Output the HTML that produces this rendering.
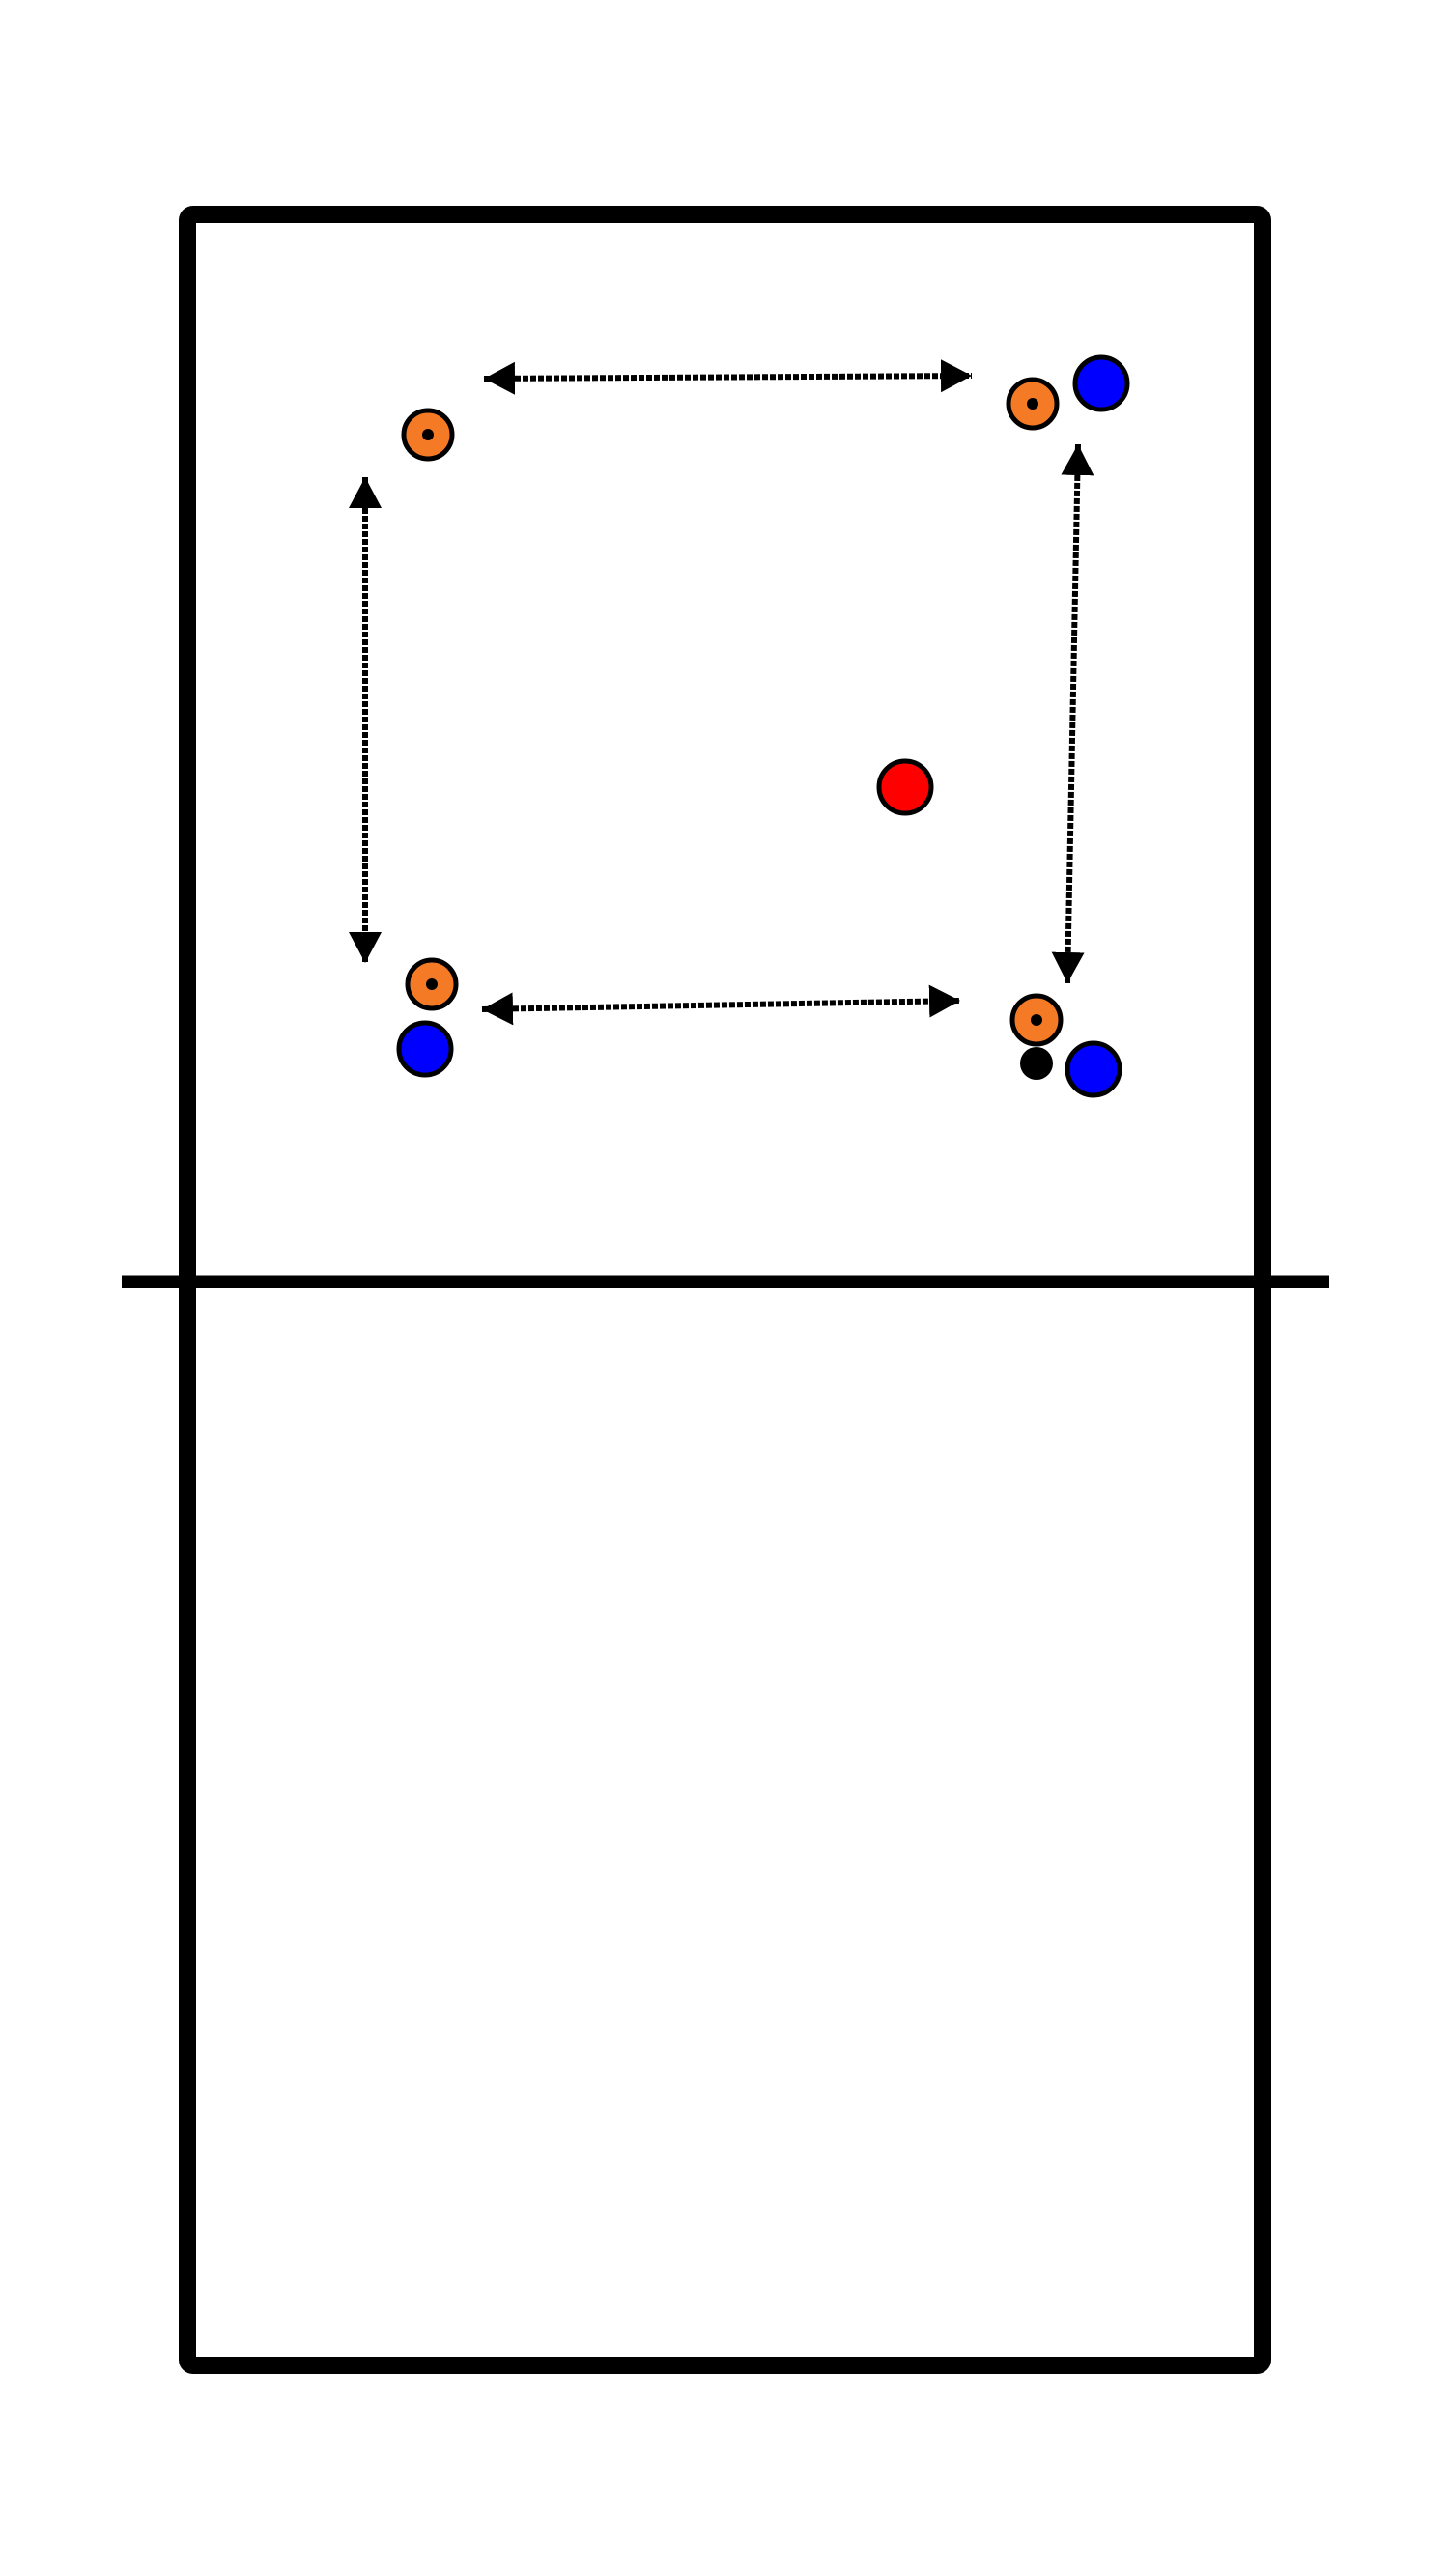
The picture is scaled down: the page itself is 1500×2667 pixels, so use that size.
<!DOCTYPE html>
<html><head><meta charset="utf-8"><style>html,body{margin:0;padding:0;background:#fff}svg{display:block}</style></head>
<body>
<svg width="1500" height="2667" viewBox="0 0 1500 2667" xmlns="http://www.w3.org/2000/svg">
<defs>
<marker id="ah" markerUnits="userSpaceOnUse" markerWidth="34" markerHeight="36" refX="32" refY="18" orient="auto-start-reverse">
<path d="M0,1 L32,18 L0,35 Z" fill="#000"/>
</marker>
</defs>
<rect x="194" y="222" width="1113" height="2227" rx="6" fill="none" stroke="#000" stroke-width="18"/>
<line x1="126" y1="1327" x2="1376" y2="1327" stroke="#000" stroke-width="13"/>
<g stroke="#000" stroke-width="6" stroke-dasharray="6 2" fill="none">
<line x1="501" y1="392" x2="1006" y2="389" marker-start="url(#ah)" marker-end="url(#ah)"/>
<line x1="378" y1="494" x2="378" y2="997" marker-start="url(#ah)" marker-end="url(#ah)"/>
<line x1="1116" y1="460" x2="1105" y2="1018" marker-start="url(#ah)" marker-end="url(#ah)"/>
<line x1="499" y1="1045" x2="994" y2="1036" marker-start="url(#ah)" marker-end="url(#ah)"/>
</g>
<g stroke="#000" stroke-width="5">
<circle cx="443" cy="450" r="25" fill="#f57a25"/>
<circle cx="1069" cy="418" r="25" fill="#f57a25"/>
<circle cx="447" cy="1019" r="25" fill="#f57a25"/>
<circle cx="1073" cy="1056" r="25" fill="#f57a25"/>
<circle cx="1140" cy="397" r="27" fill="#0000ff"/>
<circle cx="440" cy="1086" r="27" fill="#0000ff"/>
<circle cx="1132" cy="1107" r="27" fill="#0000ff"/>
<circle cx="937" cy="815" r="27" fill="#ff0000"/>
</g>
<g fill="#000">
<circle cx="443" cy="450" r="6"/>
<circle cx="1069" cy="418" r="6"/>
<circle cx="447" cy="1019" r="6"/>
<circle cx="1073" cy="1056" r="6"/>
<circle cx="1073" cy="1101" r="17"/>
</g>
</svg>
</body></html>
